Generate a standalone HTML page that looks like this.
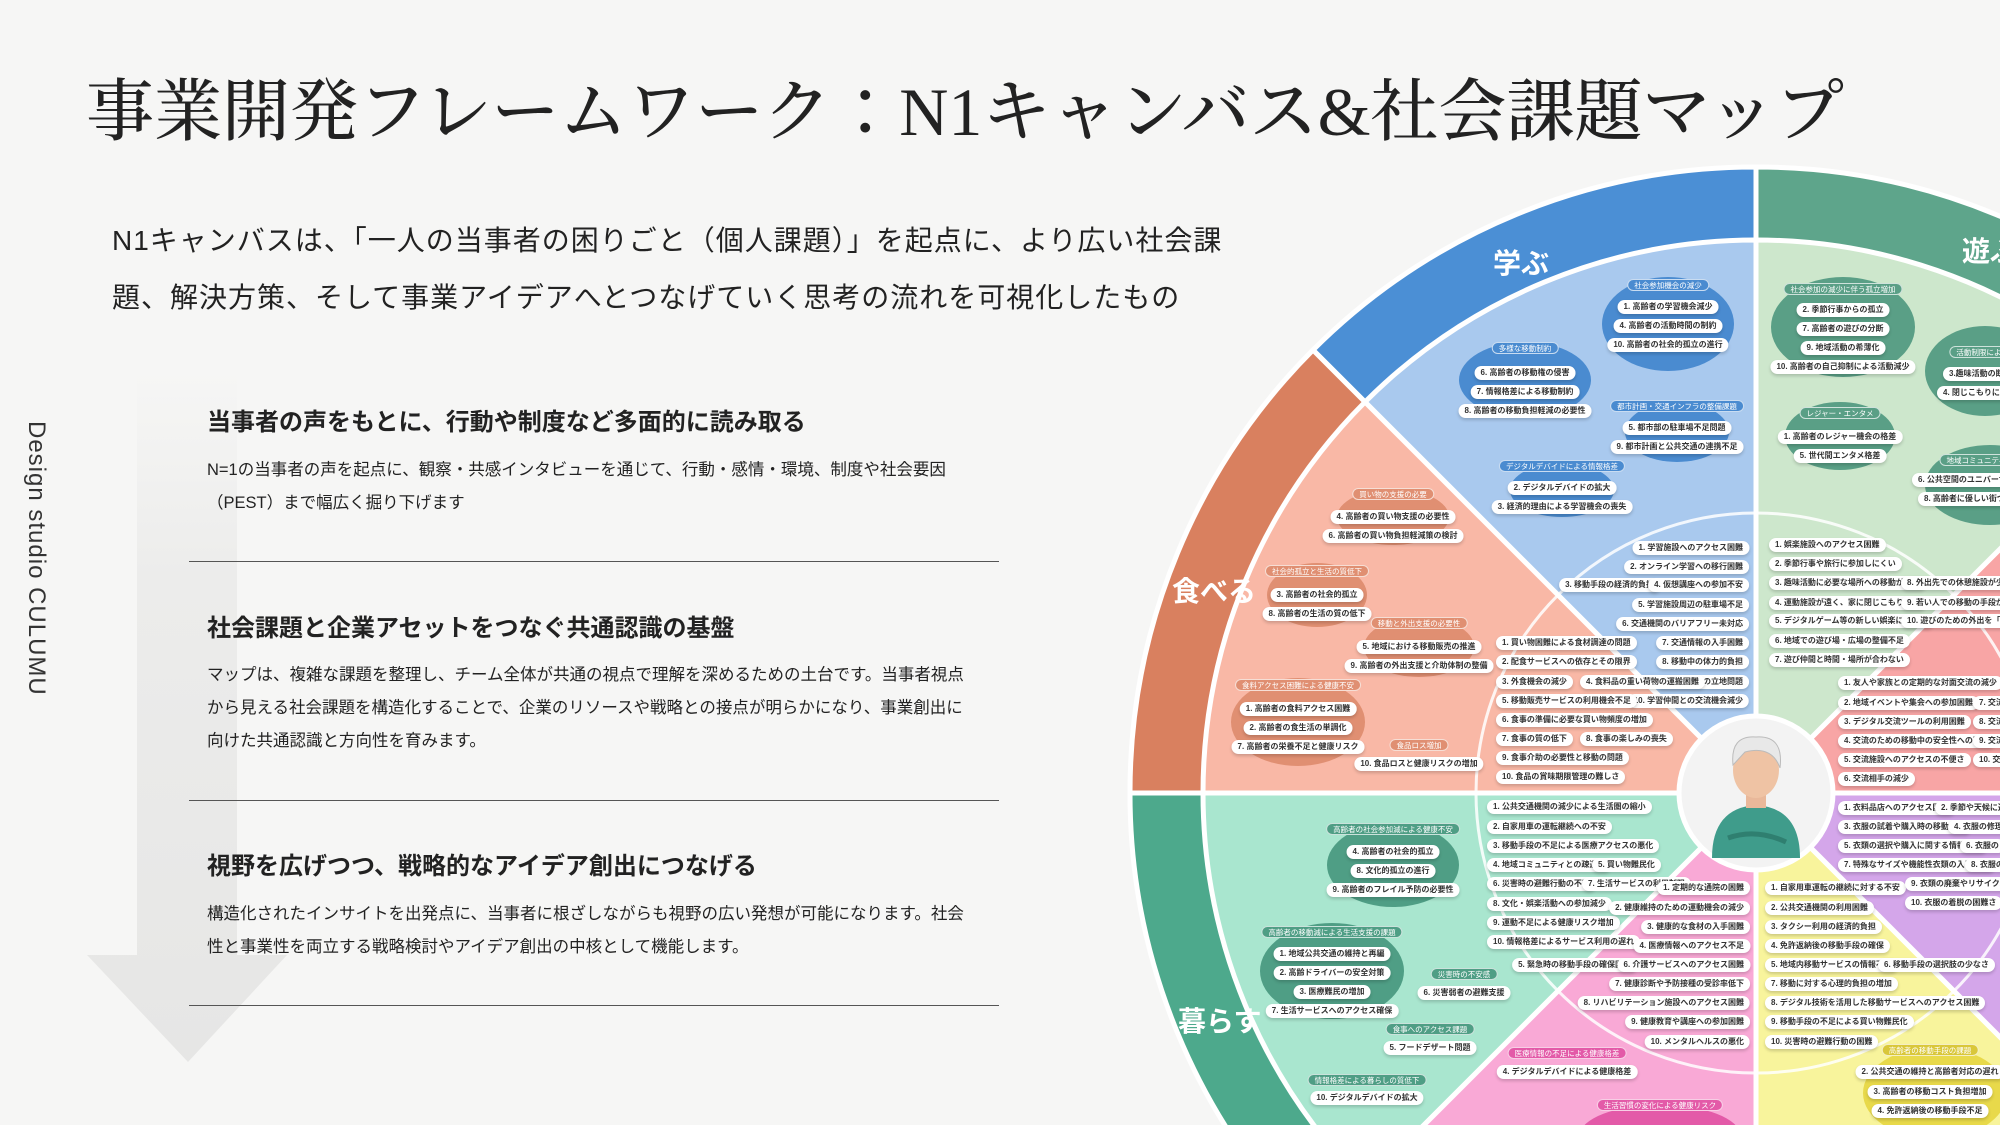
<!DOCTYPE html>
<html><head><meta charset="utf-8">
<style>
*{margin:0;padding:0;box-sizing:border-box}
html,body{width:2000px;height:1125px;overflow:hidden}
body{background:#f6f6f5;font-family:"Liberation Sans","Noto Sans CJK JP",sans-serif;color:#222}
#w{position:relative;width:2000px;height:1125px;overflow:hidden}
.abs{position:absolute;white-space:nowrap}
.title{left:86px;top:58px;font-family:"Liberation Serif","Noto Serif CJK JP",serif;font-size:68px;font-weight:500;color:#222;letter-spacing:0px}
.sub{left:112px;top:212px;font-size:28px;line-height:57px;color:#222;letter-spacing:1px}
.side{left:22px;top:421px;font-size:24px;color:#333;writing-mode:vertical-rl;letter-spacing:1px}
.h{left:207px;font-size:24px;font-weight:bold;color:#222}
.b{left:207px;font-size:16.5px;line-height:33px;color:#222}
.rule{left:189px;width:810px;height:1px;background:#555}
.p{position:absolute;white-space:nowrap;background:#fff;border-radius:8px;font-size:8px;font-weight:bold;color:#333;padding:0 6px;height:14px;line-height:14px;box-shadow:0 2px 3px rgba(0,0,0,.18)}
.r{transform:translateX(-100%)}
.c{transform:translateX(-50%)}
.lb{position:absolute;white-space:nowrap;font-size:7.5px;color:#fff;padding:0 6px;height:12px;line-height:12px;border-radius:6px;border:1px solid rgba(255,255,255,.7);transform:translateX(-50%)}
.wl{position:absolute;font-size:28px;font-weight:bold;color:#fff;white-space:nowrap}
</style></head><body><div id="w">

<svg class="abs" style="left:0;top:0" width="2000" height="1125">
<defs><linearGradient id="ag" x1="0" y1="0" x2="0" y2="1"><stop offset="0" stop-color="#f6f6f5"/><stop offset="0.3" stop-color="#ececeb"/><stop offset="1" stop-color="#e6e6e5"/></linearGradient></defs>
<path d="M137 370 H237 V955 H287 L188 1062 L87 955 H137 Z" fill="url(#ag)"/>
</svg>

<div class="abs title">事業開発フレームワーク：N1キャンバス&amp;社会課題マップ</div>
<div class="abs sub">N1キャンバスは、「一人の当事者の困りごと（個人課題）」を起点に、より広い社会課<br>題、解決方策、そして事業アイデアへとつなげていく思考の流れを可視化したもの</div>
<div class="abs side">Design studio CULUMU</div>

<div class="abs h" style="top:402px">当事者の声をもとに、行動や制度など多面的に読み取る</div>
<div class="abs b" style="top:454px">N=1の当事者の声を起点に、観察・共感インタビューを通じて、行動・感情・環境、制度や社会要因<br>（PEST）まで幅広く掘り下げます</div>
<div class="abs rule" style="top:561px"></div>
<div class="abs h" style="top:608px">社会課題と企業アセットをつなぐ共通認識の基盤</div>
<div class="abs b" style="top:659px">マップは、複雑な課題を整理し、チーム全体が共通の視点で理解を深めるための土台です。当事者視点<br>から見える社会課題を構造化することで、企業のリソースや戦略との接点が明らかになり、事業創出に<br>向けた共通認識と方向性を育みます。</div>
<div class="abs rule" style="top:800px"></div>
<div class="abs h" style="top:846px">視野を広げつつ、戦略的なアイデア創出につなげる</div>
<div class="abs b" style="top:898px">構造化されたインサイトを出発点に、当事者に根ざしながらも視野の広い発想が可能になります。社会<br>性と事業性を両立する戦略検討やアイデア創出の中核として機能します。</div>
<div class="abs rule" style="top:1005px"></div>

<svg class="abs" style="left:0;top:0" width="2000" height="1125">
<g stroke="#fff" stroke-width="5">
<path d="M1756 793 L1756 167 A626 626 0 0 0 1313 350 Z" fill="#4b8fd5"/>
<path d="M1756 793 L1313 350 A626 626 0 0 0 1130 793 Z" fill="#d9805f"/>
<path d="M1756 793 L1130 793 A626 626 0 0 0 1313 1236 Z" fill="#4da98c"/>
<path d="M1756 793 L1313 1236 A626 626 0 0 0 1756 1419 Z" fill="#e86aad"/>
<path d="M1756 793 L1756 1419 A626 626 0 0 0 2199 1236 Z" fill="#e7d84a"/>
<path d="M1756 793 L2199 1236 A626 626 0 0 0 2382 793 Z" fill="#a873cf"/>
<path d="M1756 793 L2382 793 A626 626 0 0 0 2199 350 Z" fill="#e06c6c"/>
<path d="M1756 793 L2199 350 A626 626 0 0 0 1756 167 Z" fill="#5ea58b"/>
</g>
<g stroke="#fff" stroke-width="5">
<path d="M1756 793 L1756 240 A553 553 0 0 0 1365 402 Z" fill="#a9c9ee"/>
<path d="M1756 793 L1365 402 A553 553 0 0 0 1203 793 Z" fill="#f9b8a6"/>
<path d="M1756 793 L1203 793 A553 553 0 0 0 1365 1184 Z" fill="#a9e6cf"/>
<path d="M1756 793 L1365 1184 A553 553 0 0 0 1756 1346 Z" fill="#f9a9d6"/>
<path d="M1756 793 L1756 1346 A553 553 0 0 0 2147 1184 Z" fill="#f8f49c"/>
<path d="M1756 793 L2147 1184 A553 553 0 0 0 2309 793 Z" fill="#d4a6ea"/>
<path d="M1756 793 L2309 793 A553 553 0 0 0 2147 402 Z" fill="#f8a5a5"/>
<path d="M1756 793 L2147 402 A553 553 0 0 0 1756 240 Z" fill="#cde7cc"/>
</g>
<circle cx="1756" cy="793" r="280" fill="none" stroke="#fff" stroke-width="3" opacity=".85"/>
<g fill="#4a8bd0">
<ellipse cx="1668" cy="324" rx="66" ry="47"/><ellipse cx="1525" cy="380" rx="66" ry="38"/>
<ellipse cx="1677" cy="432" rx="52" ry="30"/><ellipse cx="1562" cy="490" rx="52" ry="27"/></g>
<g fill="#e08f72">
<ellipse cx="1393" cy="517" rx="56" ry="28"/><ellipse cx="1317" cy="595" rx="50" ry="32"/>
<ellipse cx="1419" cy="647" rx="55" ry="30"/><ellipse cx="1298" cy="722" rx="67" ry="44"/></g>
<g fill="#4f9e85">
<ellipse cx="1393" cy="865" rx="66" ry="42"/><ellipse cx="1332" cy="971" rx="72" ry="48"/></g>
<g fill="#5a9f86">
<ellipse cx="1843" cy="327" rx="72" ry="50"/><ellipse cx="1840" cy="436" rx="55" ry="34"/>
<ellipse cx="1985" cy="371" rx="60" ry="45"/><ellipse cx="1990" cy="485" rx="65" ry="40"/></g>
<ellipse cx="1935" cy="1093" rx="72" ry="46" fill="#e8d94a"/>
<ellipse cx="1660" cy="1135" rx="80" ry="30" fill="#e35aa8"/>
<circle cx="1756" cy="793" r="77" fill="#f3f3f3" stroke="#fff" stroke-width="5"/>
<path d="M1712 858 Q1712 808 1756 805 Q1800 808 1800 858 Z" fill="#3f9c8b"/>
<rect x="1746" y="788" width="20" height="20" fill="#e9b89a"/>
<ellipse cx="1756" cy="770" rx="23" ry="28" fill="#efc3a4"/>
<path d="M1733 765 Q1730 735 1756 737 Q1784 735 1780 768 Q1772 745 1745 752 Z" fill="#e8e8e8" stroke="#bbb" stroke-width="1"/>
<path d="M1728 838 Q1756 828 1786 842" stroke="#2f7f70" stroke-width="5" fill="none"/>
</svg>

<div class="wl" style="left:1493px;top:242px">学ぶ</div>
<div class="wl" style="left:1962px;top:230px">遊ぶ</div>
<div class="wl" style="left:1172px;top:570px">食べる</div>
<div class="wl" style="left:1178px;top:1000px">暮らす</div>

<div class="lb" style="left:1668px;top:279px;background:#4a8bd0">社会参加機会の減少</div>
<div class="p c" style="left:1668px;top:300px">1. 高齢者の学習機会減少</div>
<div class="p c" style="left:1668px;top:319px">4. 高齢者の活動時間の制約</div>
<div class="p c" style="left:1668px;top:338px">10. 高齢者の社会的孤立の進行</div>
<div class="lb" style="left:1525px;top:342px;background:#4a8bd0">多様な移動制約</div>
<div class="p c" style="left:1525px;top:366px">6. 高齢者の移動権の侵害</div>
<div class="p c" style="left:1525px;top:385px">7. 情報格差による移動制約</div>
<div class="p c" style="left:1525px;top:404px">8. 高齢者の移動負担軽減の必要性</div>
<div class="lb" style="left:1677px;top:400px;background:#4a8bd0">都市計画・交通インフラの整備課題</div>
<div class="p c" style="left:1677px;top:421px">5. 都市部の駐車場不足問題</div>
<div class="p c" style="left:1677px;top:440px">9. 都市計画と公共交通の連携不足</div>
<div class="lb" style="left:1562px;top:460px;background:#4a8bd0">デジタルデバイドによる情報格差</div>
<div class="p c" style="left:1562px;top:481px">2. デジタルデバイドの拡大</div>
<div class="p c" style="left:1562px;top:500px">3. 経済的理由による学習機会の喪失</div>

<div class="p r" style="left:1749px;top:541px">1. 学習施設へのアクセス困難</div>
<div class="p r" style="left:1749px;top:560px">2. オンライン学習への移行困難</div>
<div class="p r" style="left:1660px;top:578px">3. 移動手段の経済的負担</div>
<div class="p r" style="left:1749px;top:578px">4. 仮想講座への参加不安</div>
<div class="p r" style="left:1749px;top:598px">5. 学習施設周辺の駐車場不足</div>
<div class="p r" style="left:1749px;top:617px">6. 交通機関のバリアフリー未対応</div>
<div class="p r" style="left:1749px;top:636px">7. 交通情報の入手困難</div>
<div class="p r" style="left:1749px;top:655px">8. 移動中の体力的負担</div>
<div class="p r" style="left:1749px;top:675px">9. 学習施設の立地問題</div>
<div class="p r" style="left:1749px;top:694px">10. 学習仲間との交流機会減少</div>

<div class="lb" style="left:1393px;top:488px;background:#e08f72">買い物の支援の必要</div>
<div class="p c" style="left:1393px;top:510px">4. 高齢者の買い物支援の必要性</div>
<div class="p c" style="left:1393px;top:529px">6. 高齢者の買い物負担軽減策の検討</div>
<div class="lb" style="left:1317px;top:565px;background:#e08f72">社会的孤立と生活の質低下</div>
<div class="p c" style="left:1317px;top:588px">3. 高齢者の社会的孤立</div>
<div class="p c" style="left:1317px;top:607px">8. 高齢者の生活の質の低下</div>
<div class="lb" style="left:1419px;top:617px;background:#e08f72">移動と外出支援の必要性</div>
<div class="p c" style="left:1419px;top:640px">5. 地域における移動販売の推進</div>
<div class="p c" style="left:1419px;top:659px">9. 高齢者の外出支援と介助体制の整備</div>
<div class="lb" style="left:1298px;top:679px;background:#e08f72">食料アクセス困難による健康不安</div>
<div class="p c" style="left:1298px;top:702px">1. 高齢者の食料アクセス困難</div>
<div class="p c" style="left:1298px;top:721px">2. 高齢者の食生活の単調化</div>
<div class="p c" style="left:1298px;top:740px">7. 高齢者の栄養不足と健康リスク</div>
<div class="lb" style="left:1419px;top:739px;background:#e08f72">食品ロス増加</div>
<div class="p c" style="left:1419px;top:757px">10. 食品ロスと健康リスクの増加</div>

<div class="p" style="left:1496px;top:636px">1. 買い物困難による食材調達の問題</div>
<div class="p" style="left:1496px;top:655px">2. 配食サービスへの依存とその限界</div>
<div class="p" style="left:1496px;top:675px">3. 外食機会の減少</div>
<div class="p" style="left:1580px;top:675px">4. 食料品の重い荷物の運搬困難</div>
<div class="p" style="left:1496px;top:694px">5. 移動販売サービスの利用機会不足</div>
<div class="p" style="left:1496px;top:713px">6. 食事の準備に必要な買い物頻度の増加</div>
<div class="p" style="left:1496px;top:732px">7. 食事の質の低下</div>
<div class="p" style="left:1580px;top:732px">8. 食事の楽しみの喪失</div>
<div class="p" style="left:1496px;top:751px">9. 食事介助の必要性と移動の問題</div>
<div class="p" style="left:1496px;top:770px">10. 食品の賞味期限管理の難しさ</div>

<div class="lb" style="left:1393px;top:823px;background:#4f9e85">高齢者の社会参加減による健康不安</div>
<div class="p c" style="left:1393px;top:845px">4. 高齢者の社会的孤立</div>
<div class="p c" style="left:1393px;top:864px">8. 文化的孤立の進行</div>
<div class="p c" style="left:1393px;top:883px">9. 高齢者のフレイル予防の必要性</div>
<div class="lb" style="left:1332px;top:926px;background:#4f9e85">高齢者の移動減による生活支援の課題</div>
<div class="p c" style="left:1332px;top:947px">1. 地域公共交通の維持と再編</div>
<div class="p c" style="left:1332px;top:966px">2. 高齢ドライバーの安全対策</div>
<div class="p c" style="left:1332px;top:985px">3. 医療難民の増加</div>
<div class="p c" style="left:1332px;top:1004px">7. 生活サービスへのアクセス確保</div>
<div class="lb" style="left:1464px;top:968px;background:#4f9e85">災害時の不安感</div>
<div class="p c" style="left:1464px;top:986px">6. 災害弱者の避難支援</div>
<div class="lb" style="left:1430px;top:1023px;background:#4f9e85">食事へのアクセス課題</div>
<div class="p c" style="left:1430px;top:1041px">5. フードデザート問題</div>
<div class="lb" style="left:1367px;top:1074px;background:#4f9e85">情報格差による暮らしの質低下</div>
<div class="p c" style="left:1367px;top:1091px">10. デジタルデバイドの拡大</div>

<div class="p" style="left:1487px;top:800px">1. 公共交通機関の減少による生活圏の縮小</div>
<div class="p" style="left:1487px;top:820px">2. 自家用車の運転継続への不安</div>
<div class="p" style="left:1487px;top:839px">3. 移動手段の不足による医療アクセスの悪化</div>
<div class="p" style="left:1487px;top:858px">4. 地域コミュニティとの疎遠化</div>
<div class="p" style="left:1592px;top:858px">5. 買い物難民化</div>
<div class="p" style="left:1487px;top:877px">6. 災害時の避難行動の不安</div>
<div class="p" style="left:1582px;top:877px">7. 生活サービスの利用制限</div>
<div class="p" style="left:1487px;top:897px">8. 文化・娯楽活動への参加減少</div>
<div class="p" style="left:1487px;top:916px">9. 運動不足による健康リスク増加</div>
<div class="p" style="left:1487px;top:935px">10. 情報格差によるサービス利用の遅れ</div>

<div class="p r" style="left:1750px;top:881px">1. 定期的な通院の困難</div>
<div class="p r" style="left:1750px;top:901px">2. 健康維持のための運動機会の減少</div>
<div class="p r" style="left:1750px;top:920px">3. 健康的な食材の入手困難</div>
<div class="p r" style="left:1750px;top:939px">4. 医療情報へのアクセス不足</div>
<div class="p r" style="left:1637px;top:958px">5. 緊急時の移動手段の確保困難</div>
<div class="p r" style="left:1750px;top:958px">6. 介護サービスへのアクセス困難</div>
<div class="p r" style="left:1750px;top:977px">7. 健康診断や予防接種の受診率低下</div>
<div class="p r" style="left:1750px;top:996px">8. リハビリテーション施設へのアクセス困難</div>
<div class="p r" style="left:1750px;top:1015px">9. 健康教育や講座への参加困難</div>
<div class="p r" style="left:1750px;top:1035px">10. メンタルヘルスの悪化</div>
<div class="lb" style="left:1567px;top:1047px;background:#e35aa8">医療情報の不足による健康格差</div>
<div class="p c" style="left:1567px;top:1065px">4. デジタルデバイドによる健康格差</div>
<div class="lb" style="left:1660px;top:1099px;background:#e35aa8">生活習慣の変化による健康リスク</div>

<div class="p" style="left:1765px;top:881px">1. 自家用車運転の継続に対する不安</div>
<div class="p" style="left:1765px;top:901px">2. 公共交通機関の利用困難</div>
<div class="p" style="left:1765px;top:920px">3. タクシー利用の経済的負担</div>
<div class="p" style="left:1765px;top:939px">4. 免許返納後の移動手段の確保</div>
<div class="p" style="left:1765px;top:958px">5. 地域内移動サービスの情報不足</div>
<div class="p" style="left:1878px;top:958px">6. 移動手段の選択肢の少なさ</div>
<div class="p" style="left:1765px;top:977px">7. 移動に対する心理的負担の増加</div>
<div class="p" style="left:1765px;top:996px">8. デジタル技術を活用した移動サービスへのアクセス困難</div>
<div class="p" style="left:1765px;top:1015px">9. 移動手段の不足による買い物難民化</div>
<div class="p" style="left:1765px;top:1035px">10. 災害時の避難行動の困難</div>
<div class="lb" style="left:1930px;top:1044px;background:#d9c73a">高齢者の移動手段の課題</div>
<div class="p c" style="left:1930px;top:1065px">2. 公共交通の維持と高齢者対応の遅れ</div>
<div class="p c" style="left:1930px;top:1085px">3. 高齢者の移動コスト負担増加</div>
<div class="p c" style="left:1930px;top:1104px">4. 免許返納後の移動手段不足</div>

<div class="p" style="left:1838px;top:801px">1. 衣料品店へのアクセス困難</div>
<div class="p" style="left:1935px;top:801px">2. 季節や天候に適した衣服</div>
<div class="p" style="left:1838px;top:820px">3. 衣服の試着や購入時の移動負担</div>
<div class="p" style="left:1948px;top:820px">4. 衣服の修理や</div>
<div class="p" style="left:1838px;top:839px">5. 衣類の選択や購入に関する情報不足</div>
<div class="p" style="left:1960px;top:839px">6. 衣服の</div>
<div class="p" style="left:1838px;top:858px">7. 特殊なサイズや機能性衣類の入手困難</div>
<div class="p" style="left:1965px;top:858px">8. 衣服の</div>
<div class="p" style="left:1905px;top:877px">9. 衣類の廃棄やリサイクルの方法</div>
<div class="p" style="left:1905px;top:896px">10. 衣服の着脱の困難さ</div>

<div class="p" style="left:1838px;top:676px">1. 友人や家族との定期的な対面交流の減少</div>
<div class="p" style="left:1838px;top:696px">2. 地域イベントや集会への参加困難</div>
<div class="p" style="left:1973px;top:696px">7. 交流</div>
<div class="p" style="left:1838px;top:715px">3. デジタル交流ツールの利用困難</div>
<div class="p" style="left:1973px;top:715px">8. 交流</div>
<div class="p" style="left:1838px;top:734px">4. 交流のための移動中の安全性への不安</div>
<div class="p" style="left:1973px;top:734px">9. 交流</div>
<div class="p" style="left:1838px;top:753px">5. 交流施設へのアクセスの不便さ</div>
<div class="p" style="left:1973px;top:753px">10. 交流</div>
<div class="p" style="left:1838px;top:772px">6. 交流相手の減少</div>

<div class="lb" style="left:1843px;top:283px;background:#5a9f86">社会参加の減少に伴う孤立増加</div>
<div class="p c" style="left:1843px;top:303px">2. 季節行事からの孤立</div>
<div class="p c" style="left:1843px;top:322px">7. 高齢者の遊びの分断</div>
<div class="p c" style="left:1843px;top:341px">9. 地域活動の希薄化</div>
<div class="p c" style="left:1843px;top:360px">10. 高齢者の自己抑制による活動減少</div>
<div class="lb" style="left:1840px;top:407px;background:#5a9f86">レジャー・エンタメ</div>
<div class="p c" style="left:1840px;top:430px">1. 高齢者のレジャー機会の格差</div>
<div class="p c" style="left:1840px;top:449px">5. 世代間エンタメ格差</div>
<div class="lb" style="left:1990px;top:346px;background:#5a9f86">活動制限による孤立</div>
<div class="p" style="left:1943px;top:367px">3.趣味活動の断絶と</div>
<div class="p" style="left:1937px;top:386px">4. 閉じこもりによる</div>
<div class="lb" style="left:1995px;top:454px;background:#5a9f86">地域コミュニティの活力低下</div>
<div class="p" style="left:1912px;top:473px">6. 公共空間のユニバーサルデザイン</div>
<div class="p" style="left:1918px;top:492px">8. 高齢者に優しい街づくり</div>

<div class="p" style="left:1769px;top:538px">1. 娯楽施設へのアクセス困難</div>
<div class="p" style="left:1769px;top:557px">2. 季節行事や旅行に参加しにくい</div>
<div class="p" style="left:1769px;top:576px">3. 趣味活動に必要な場所への移動が困難</div>
<div class="p" style="left:1901px;top:576px">8. 外出先での休憩施設が少ない</div>
<div class="p" style="left:1769px;top:596px">4. 運動施設が遠く、家に閉じこもりがち</div>
<div class="p" style="left:1901px;top:596px">9. 若い人での移動の手段がない</div>
<div class="p" style="left:1769px;top:614px">5. デジタルゲーム等の新しい娯楽に不慣れ</div>
<div class="p" style="left:1901px;top:614px">10. 遊びのための外出を「贅沢」と</div>
<div class="p" style="left:1769px;top:634px">6. 地域での遊び場・広場の整備不足</div>
<div class="p" style="left:1769px;top:653px">7. 遊び仲間と時間・場所が合わない</div>

</div></body></html>
